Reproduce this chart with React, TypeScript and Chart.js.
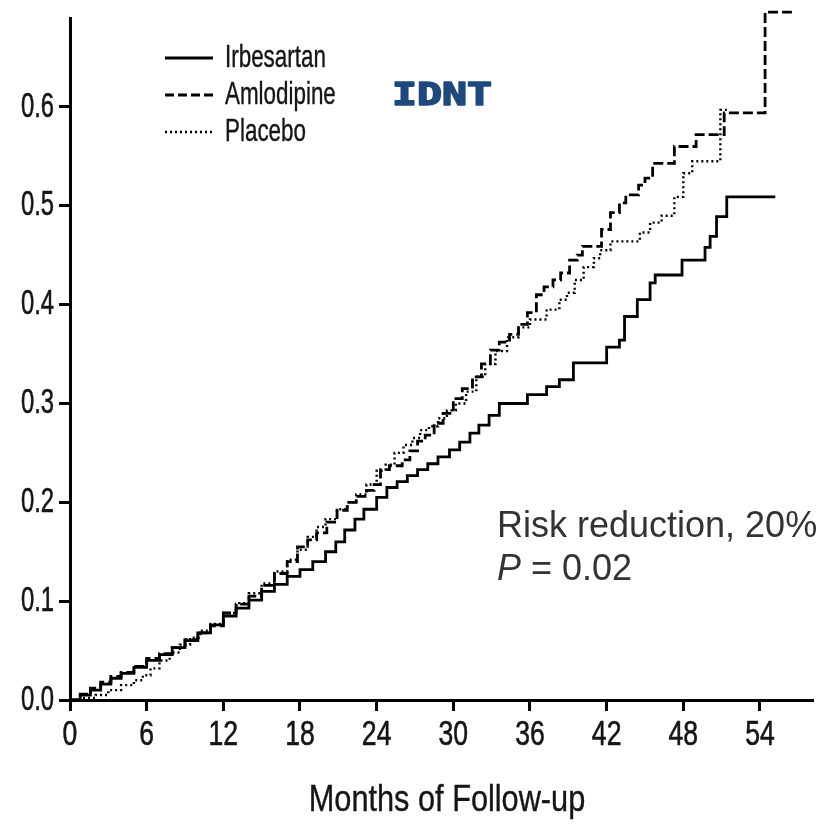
import { useEffect, useRef } from 'react';
import { Chart, registerables } from 'chart.js';

Chart.register(...registerables);

// Cumulative risk of the composite renal end point (Kaplan-Meier), by month of follow-up
const irbesartanMonths = [0, 0.8, 1.6, 2.4, 3.2, 4, 5, 6, 7, 8, 9, 10, 11, 12, 13, 14, 15, 16, 17, 18, 19, 20, 20.8, 21.5, 22.3, 23, 24, 24.8, 25.6, 26.4, 27.2, 28, 28.8, 29.7, 30.5, 31.3, 32, 32.8, 33.6, 35.8, 37.3, 38.3, 39.4, 42, 43, 43.4, 44.4, 45.4, 45.8, 47.9, 49.7, 50.1, 50.6, 51.4, 55.2];
const irbesartanRisk = [0, 0.005, 0.01, 0.016, 0.022, 0.027, 0.033, 0.04, 0.046, 0.053, 0.06, 0.068, 0.076, 0.085, 0.093, 0.101, 0.11, 0.117, 0.125, 0.132, 0.14, 0.15, 0.16, 0.172, 0.183, 0.193, 0.205, 0.215, 0.221, 0.227, 0.233, 0.239, 0.246, 0.253, 0.261, 0.27, 0.278, 0.288, 0.3, 0.309, 0.317, 0.324, 0.341, 0.357, 0.364, 0.388, 0.405, 0.422, 0.43, 0.445, 0.458, 0.469, 0.489, 0.509, 0.509];

const amlodipineMonths = [0, 0.8, 1.6, 2.4, 3.2, 4, 5, 6, 7, 8, 9, 10, 11, 12, 13, 14, 15, 16, 17, 17.8, 18.6, 19.3, 20.1, 20.9, 21.7, 22.4, 23.2, 23.8, 24.3, 25, 26, 26.6, 27.2, 27.8, 28.5, 29.2, 30, 30.7, 31.5, 32.2, 32.9, 33.6, 34.4, 35.1, 35.8, 36.5, 37.1, 37.8, 38.4, 39.1, 39.7, 40.1, 41.6, 42.3, 43, 43.5, 44.5, 45, 45.6, 47.3, 49, 51.2, 54.4, 56.5];
const amlodipineRisk = [0, 0.006, 0.012, 0.018, 0.024, 0.028, 0.034, 0.042, 0.047, 0.053, 0.061, 0.068, 0.075, 0.088, 0.097, 0.105, 0.116, 0.128, 0.14, 0.155, 0.162, 0.169, 0.18, 0.192, 0.2, 0.206, 0.212, 0.218, 0.233, 0.237, 0.243, 0.252, 0.262, 0.268, 0.28, 0.29, 0.305, 0.315, 0.327, 0.34, 0.354, 0.362, 0.37, 0.38, 0.392, 0.41, 0.418, 0.425, 0.432, 0.445, 0.45, 0.459, 0.476, 0.493, 0.503, 0.511, 0.521, 0.528, 0.543, 0.56, 0.572, 0.594, 0.696, 0.696];

const placeboMonths = [0, 1, 2, 3, 4, 5, 5.7, 6.3, 7, 7.8, 8.6, 9.4, 10.2, 11, 12, 13, 14, 15, 16, 17, 17.8, 18.6, 19.3, 20, 20.9, 21.7, 22.4, 23.2, 24, 24.7, 25.4, 26.1, 26.8, 27.4, 28.1, 28.8, 29.5, 30.2, 31, 31.8, 32.5, 33.3, 34.2, 35.1, 36, 37.3, 38.3, 38.9, 39.5, 40.2, 41, 41.5, 42.3, 44.6, 45.4, 46.3, 47.3, 48, 48.7, 50.9, 51.6];
const placeboRisk = [0, 0.002, 0.005, 0.01, 0.015, 0.02, 0.025, 0.032, 0.04, 0.048, 0.056, 0.063, 0.07, 0.077, 0.088, 0.098, 0.108, 0.118, 0.13, 0.142, 0.152, 0.165, 0.175, 0.183, 0.193, 0.2, 0.208, 0.218, 0.232, 0.238, 0.25, 0.258, 0.265, 0.273, 0.277, 0.285, 0.293, 0.3, 0.312, 0.327, 0.34, 0.353, 0.367, 0.377, 0.385, 0.395, 0.405, 0.412, 0.425, 0.438, 0.447, 0.455, 0.464, 0.473, 0.483, 0.49, 0.509, 0.533, 0.545, 0.597, 0.597];

const seriesNames = ['Irbesartan', 'Amlodipine', 'Placebo'];
const monthTicks = [0, 6, 12, 18, 24, 30, 36, 42, 48, 54];
const riskTicks = [0, 0.1, 0.2, 0.3, 0.4, 0.5, 0.6];

const studyName = 'IDNT';
const riskReductionText = 'Risk reduction, 20%';
const pValueText = '= 0.02';
const xAxisTitle = 'Months of Follow-up';

const seriesDash: number[][] = [[], [10, 4], [2, 3]];
const seriesWidth = [2.8, 2.8, 2.4];

const SANS = "'Liberation Sans', Arial, sans-serif";

function squeezed(
  ctx: CanvasRenderingContext2D,
  text: string,
  x: number,
  y: number,
  font: string,
  sx: number,
  align: CanvasTextAlign,
  outline = 0,
) {
  ctx.save();
  ctx.font = font;
  ctx.translate(x, y);
  ctx.scale(sx, 1);
  ctx.textAlign = align;
  ctx.textBaseline = 'middle';
  ctx.fillText(text, 0, 0);
  if (outline > 0) {
    ctx.strokeStyle = ctx.fillStyle;
    ctx.lineWidth = outline;
    ctx.lineJoin = 'round';
    ctx.strokeText(text, 0, 0);
  }
  ctx.restore();
}

const annotations = {
  id: 'annotations',
  afterDraw(chart: any) {
    const { ctx } = chart;
    const xs = chart.scales.x;
    const ys = chart.scales.y;
    ctx.save();
    ctx.fillStyle = '#151515';

    // axis tick labels
    ys.ticks.forEach((t: any) => {
      squeezed(ctx, t.value.toFixed(1), 54, ys.getPixelForValue(t.value), `35px ${SANS}`, 0.68, 'right', 0.6);
    });
    xs.ticks.forEach((t: any) => {
      squeezed(ctx, String(t.value), xs.getPixelForValue(t.value), 735, `35px ${SANS}`, 0.76, 'center', 0.6);
    });
    squeezed(ctx, xAxisTitle, 447, 801, `37px ${SANS}`, 0.83, 'center', 0.4);

    // legend
    const legendY = [58, 95, 132];
    chart.data.datasets.forEach((ds: any, i: number) => {
      ctx.save();
      ctx.strokeStyle = '#000';
      ctx.lineWidth = i === 2 ? 2.4 : 3.2;
      ctx.setLineDash(i === 1 ? [9, 4] : seriesDash[i]);
      ctx.beginPath();
      ctx.moveTo(165, legendY[i]);
      ctx.lineTo(213, legendY[i]);
      ctx.stroke();
      ctx.restore();
      squeezed(ctx, ds.label, 225, legendY[i], `32px ${SANS}`, 0.7, 'left', 0.4);
    });

    // study label
    ctx.fillStyle = '#1f497d';
    squeezed(ctx, studyName, 442, 97, `bold 32px 'DejaVu Sans Mono', monospace`, 1.3, 'center', 1.6);

    // statistics
    ctx.fillStyle = '#333333';
    ctx.textBaseline = 'middle';
    ctx.textAlign = 'left';
    ctx.font = `36px ${SANS}`;
    ctx.fillText(riskReductionText, 497, 527);
    ctx.font = `italic 36px ${SANS}`;
    ctx.fillText('P', 497, 570);
    const pw = ctx.measureText('P').width;
    ctx.font = `36px ${SANS}`;
    ctx.fillText(' ' + pValueText, 497 + pw, 570);
    ctx.restore();
  },
};

export default function App() {
  const canvasRef = useRef<HTMLCanvasElement | null>(null);

  useEffect(() => {
    const canvas = canvasRef.current;
    if (!canvas) return;
    const series = [
      [irbesartanMonths, irbesartanRisk],
      [amlodipineMonths, amlodipineRisk],
      [placeboMonths, placeboRisk],
    ];
    const chart = new Chart(canvas, {
      type: 'line',
      data: {
        datasets: series.map(([months, risk], i) => ({
          label: seriesNames[i],
          data: months.map((m, k) => ({ x: m, y: risk[k] })),
          borderColor: '#000',
          borderWidth: seriesWidth[i],
          borderDash: seriesDash[i],
          stepped: 'before' as const,
          pointRadius: 0,
          fill: false,
          clip: false as any,
        })),
      },
      options: {
        animation: false,
        responsive: false,
        events: [],
        layout: { padding: { top: 18, right: 21, left: 0, bottom: 0 } },
        plugins: { legend: { display: false }, tooltip: { enabled: false } },
        scales: {
          x: {
            type: 'linear',
            min: 0,
            max: 58.15,
            afterFit: (s: any) => {
              s.height = 127;
            },
            afterBuildTicks: (s: any) => {
              s.ticks = monthTicks.map((v) => ({ value: v }));
            },
            border: { color: '#000', width: 3 },
            grid: { drawOnChartArea: false, tickLength: 11, tickWidth: 3, tickColor: '#000' },
            ticks: { display: false },
          },
          y: {
            type: 'linear',
            min: 0,
            max: 0.69,
            afterFit: (s: any) => {
              s.width = 70;
            },
            afterBuildTicks: (s: any) => {
              s.ticks = riskTicks.map((v) => ({ value: v }));
            },
            border: { color: '#000', width: 3 },
            grid: { drawOnChartArea: false, tickLength: 11, tickWidth: 3, tickColor: '#000' },
            ticks: { display: false },
          },
        },
      },
      plugins: [annotations],
    });
    return () => chart.destroy();
  }, []);

  return (
    <div style={{ position: 'fixed', left: 0, top: 0, width: 834, height: 827, background: '#fff' }}>
      <canvas ref={canvasRef} width={834} height={827} style={{ display: 'block' }} />
    </div>
  );
}
